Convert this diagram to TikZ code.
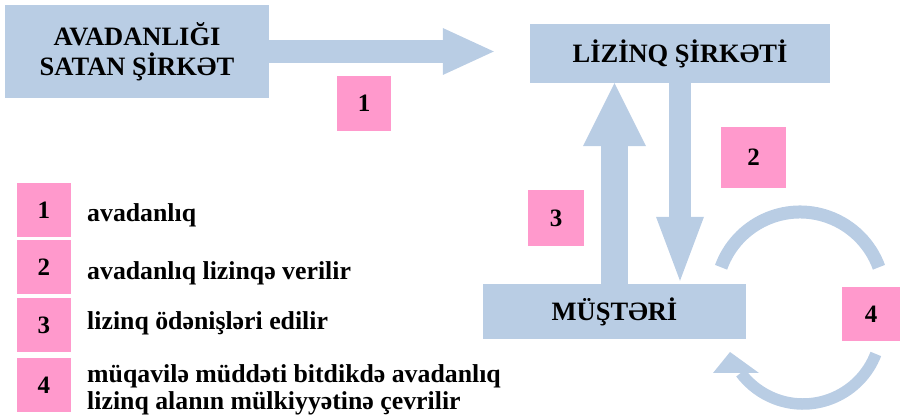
\documentclass[tikz,border=0pt]{standalone}
\usepackage{fontspec}
\setmainfont{Liberation Serif}
\usetikzlibrary{arrows.meta}

\begin{document}
\begin{tikzpicture}[x=1pt,y=1pt,
  box/.style={fill=boxblue,inner sep=0pt,align=center,font=\bfseries\fontsize{26.5}{30}\selectfont},
  tag/.style={fill=tagpink,inner sep=0pt,font=\bfseries\fontsize{25}{25}\selectfont},
  legtext/.style={inner sep=0pt,align=left,font=\bfseries\fontsize{25.8}{27}\selectfont},
  blockarrow/.style n args={3}{draw=boxblue,line width=#1,-{Triangle[length=#2,width=#3,line width=0pt]}}]
% Define colours
\definecolor{boxblue}{RGB}{185,205,228}
\definecolor{tagpink}{RGB}{255,153,204}
\useasboundingbox (0,0) rectangle (900,419);

% Draw main boxes
\node[box,minimum width=264pt,minimum height=93pt] (seller) at (137,367.5) {AVADANLIĞI\\SATAN ŞİRKƏT};
\node[box,minimum width=300pt,minimum height=59pt] (lessor) at (680,365.5) {LİZİNQ ŞİRKƏTİ};
\node[box,minimum width=263pt,minimum height=55pt] (client) at (614.5,107.5) {MÜŞTƏRİ};

% Add block arrows
\draw[blockarrow={23pt}{51pt}{47pt},shorten >=36pt] (seller.east) -- (seller.east -| lessor.west);
\draw[blockarrow={22pt}{64pt}{48pt},shorten >=3pt] (lessor.south) -- (lessor.south |- client.north);
\draw[blockarrow={27pt}{63pt}{63pt}] (client.north) -- (client.north |- lessor.south);

% Add circular arrow
\draw[boxblue,line width=13pt] (800,123) ++(160:84) arc[start angle=160,end angle=20,radius=84];
\draw[boxblue,line width=11.5pt] (803,93) ++(-21:78) arc[start angle=-21,end angle=-143,radius=78];
\fill[boxblue] (713,46) -- (759,46) -- (730,67) -- cycle;

% Add step numbers
\node[tag,minimum width=54pt,minimum height=55pt] (n1) at (364,315.5) {1};
\node[tag,minimum width=65pt,minimum height=61pt] (n2) at (753.5,261.5) {2};
\node[tag,minimum width=56pt,minimum height=56pt] (n3) at (556,201) {3};
\node[tag,minimum width=58pt,minimum height=54pt] (n4) at (871,105) {4};

% Add legend
\node[tag,minimum width=54pt,minimum height=54pt] (l1) at (44,209) {1};
\node[tag,minimum width=54pt,minimum height=54pt] (l2) at (44,151.5) {2};
\node[tag,minimum width=54pt,minimum height=54pt] (l3) at (44,94) {3};
\node[tag,minimum width=54pt,minimum height=54pt] (l4) at (44,33.5) {4};

\node[legtext,anchor=base west] (t1) at (87,197) {avadanlıq};
\node[legtext,anchor=base west] (t2) at (87,139) {avadanlıq lizinqə verilir};
\node[legtext,anchor=base west] (t3) at (87,89) {lizinq ödənişləri edilir};
\node[legtext,anchor=base west] (t4) at (87,9) {müqavilə müddəti bitdikdə avadanlıq\\lizinq alanın mülkiyyətinə çevrilir};
\end{tikzpicture}
\end{document}
